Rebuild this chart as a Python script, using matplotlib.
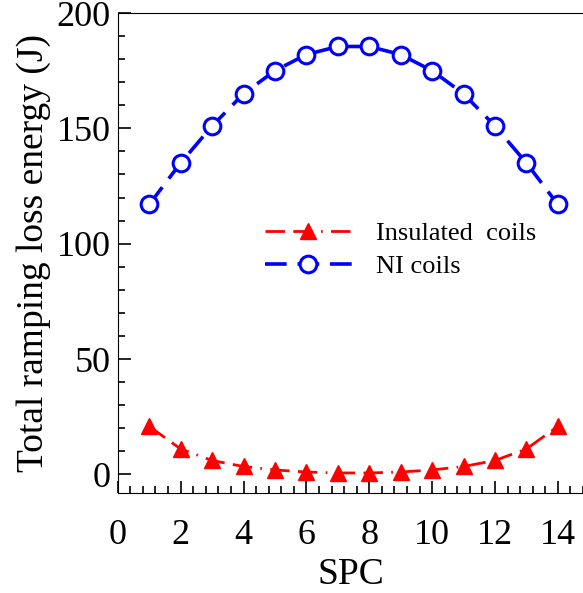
import matplotlib
matplotlib.use("Agg")
from matplotlib import pyplot as plt
from matplotlib.ticker import MultipleLocator

plt.rcParams['font.family'] = ['Liberation Serif', 'DejaVu Serif']

spc = [1, 2, 3, 4, 5, 6, 7, 8, 9, 10, 11, 12, 13, 14]
insulated = [20.8, 11.0, 6.0, 3.4, 1.9, 1.0, 0.6, 0.6, 1.0, 1.9, 3.4, 6.0, 11.0, 20.8]
ni = [117, 135, 151, 165, 175, 182, 185.5, 185.5, 182, 175, 165, 151, 135, 117]

fig = plt.figure(figsize=(5.83, 5.93), dpi=100)
ax = fig.add_axes([0.202, 0.169, 0.798, 0.809])

ax.plot(spc, insulated, color="red", lw=2.0, dashes=(7, 3, 7, 3, 0.6, 3),
        marker="^", ms=12, mfc="red", mec="red", label="Insulated  coils")
ax.plot(spc, ni, color="blue", lw=2.6, dashes=(6, 3),
        marker="o", ms=12, mfc="white", mec="blue", mew=2.2, label="NI coils")

ax.set_xlim(0, 14.8)
ax.set_ylim(-8, 200)
ax.xaxis.set_major_locator(MultipleLocator(2))
ax.xaxis.set_minor_locator(MultipleLocator(0.4))
ax.yaxis.set_major_locator(MultipleLocator(50))
ax.yaxis.set_minor_locator(MultipleLocator(10))
ax.tick_params(which="both", direction="in", labelsize=26, width=1.2)
ax.tick_params(which="major", length=9)
ax.tick_params(which="minor", length=5)
ax.tick_params(axis="x", pad=19)
ax.tick_params(axis="y", pad=5)
ax.spines["right"].set_visible(False)

ax.set_xlabel("SPC", fontsize=27, labelpad=4)
ax.set_ylabel("Total ramping loss energy (J)", fontsize=27, labelpad=4)

ax.legend(loc="center left", bbox_to_anchor=(0.316, 0.506), frameon=False,
          fontsize=19, handlelength=3.3, handletextpad=0.9, labelspacing=0.35,
          borderpad=0, borderaxespad=0)

fig.savefig("out.png", dpi=100)
